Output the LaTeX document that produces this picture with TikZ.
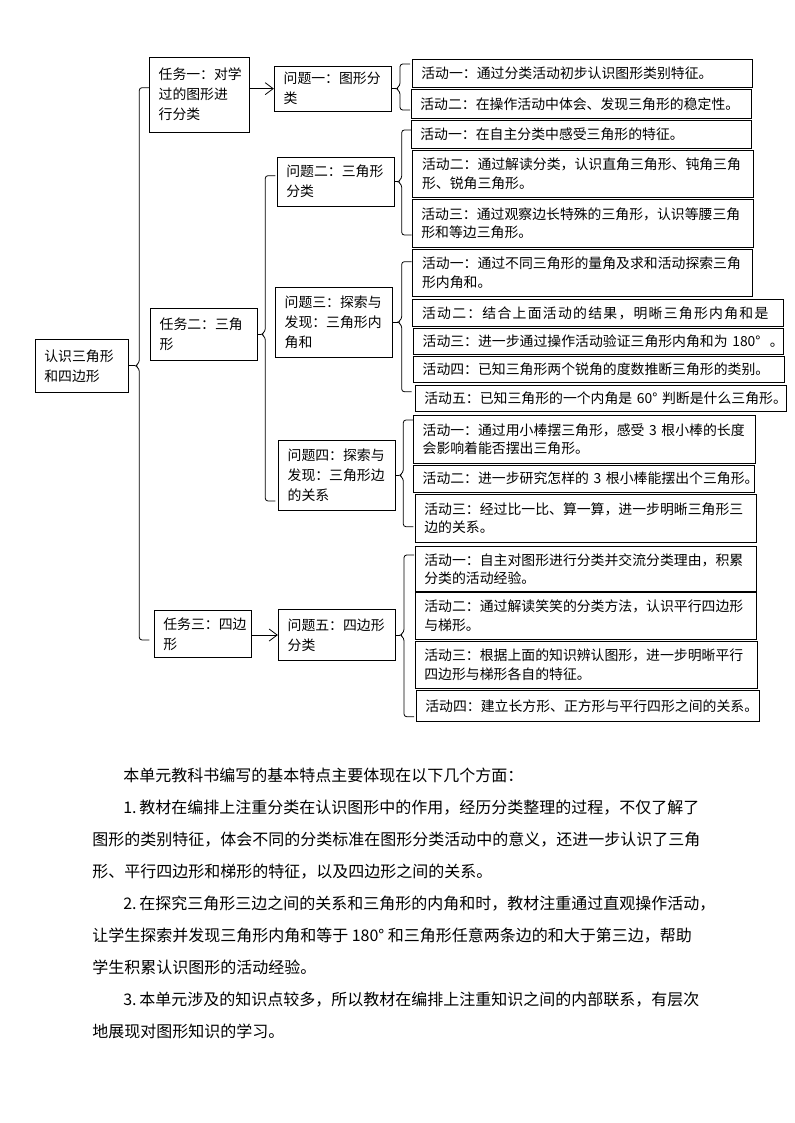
\documentclass[tikz,border=0pt]{standalone}
\usepackage{fontspec}
\setmainfont{Noto Sans CJK SC}
\usetikzlibrary{calc,arrows.meta}
\def\tbox[#1](#2)(#3,#4)(#5,#6)#7{\pgfmathsetmacro\bw{(#5-#3)*0.75-14}\pgfmathsetmacro\bh{(#6-#4)*0.75}\node[#1,text width=\bw pt,minimum height=\bh pt] (#2) at ({(#3+#5)/2},{(#4+#6)/2}) {#7};}
\def\fork(#1)(#2:#3:#4){\draw[link] (#1.east) -- ({#2-4},0 |- #1.east);
	\draw[link,rounded corners=2pt] ({#2+10},#3) -- (#2,#3) -- ($(#2,0 |- #1.east)+(0,-3)$) -- ({#2-4},0 |- #1.east) -- ($(#2,0 |- #1.east)+(0,3)$) -- (#2,#4) -- ({#2+10},#4);}

\begin{document}
\begin{tikzpicture}[x=0.75pt,y=-0.75pt,
	cell/.style={draw,line width=0.7pt,inner xsep=7pt,inner ysep=1pt,align=left,font=\fontsize{10.4}{15}\selectfont},
	act/.style={cell,font=\fontsize{10.4}{13.7}\selectfont},
	link/.style={line width=0.6pt},
	arr/.style={link,-{Straight Barb[length=6pt,width=9pt]}},
	para/.style={anchor=base west,inner sep=0pt,font=\fontsize{12}{24}\selectfont}]
		%%%%% START %%%%%
		\useasboundingbox (0,0) rectangle (794,1123);
		
		\tbox[cell](root)(35,339.3)(128.7,392.3){认识三角形\\和四边形}
		
		\tbox[cell](t1)(149.3,57)(249.3,132.3){任务一：对学\\过的图形进\\行分类}
		\tbox[cell](t2)(150.3,308.3)(257.3,360.3){任务二：三角\\形}
		\tbox[cell](t3)(154,610)(251.7,657.7){任务三：四边\\形}
		
		\tbox[cell](q1)(274.3,66)(391.7,111.3){问题一：图形分\\类}
		\tbox[cell](q2)(277,157.3)(394.3,206){问题二：三角形\\分类}
		\tbox[cell](q3)(275.3,287.3)(392.3,357){问题三：探索与\\发现：三角形内\\角和}
		\tbox[cell](q4)(278.3,440)(395.7,510.7){问题四：探索与\\发现：三角形边\\的关系}
		\tbox[cell](q5)(278.3,609.3)(395.7,660.7){问题五：四边形\\分类}
		
		\tbox[act](a11)(412,59.3)(752.3,87.3){活动一：通过分类活动初步认识图形类别特征。}
		\tbox[act](a12)(411,89.3)(751.7,118.3){活动二：在操作活动中体会、发现三角形的稳定性。}
		
		\tbox[act](a21)(411,120)(751.7,148.3){活动一：在自主分类中感受三角形的特征。}
		\tbox[act](a22)(412.7,150)(753.3,197.7){活动二：通过解读分类，认识直角三角形、钝角三角\\形、锐角三角形。}
		\tbox[act](a23)(412,199.3)(753.3,247.3){活动三：通过观察边长特殊的三角形，认识等腰三角\\形和等边三角形。}
		
		\tbox[act](a31)(412.7,249.3)(752.3,296){活动一：通过不同三角形的量角及求和活动探索三角\\形内角和。}
		\tbox[act](a32)(412.7,299.3)(783.3,326.7){\addfontfeature{LetterSpace=9}活动二：结合上面活动的结果，明晰三角形内角和是}
		\tbox[act](a33)(413.3,328.3)(783.3,354.3){活动三：进一步通过操作活动验证三角形内角和为~180°~~。}
		\tbox[act](a34)(413.3,356.7)(784.3,382.3){活动四：已知三角形两个锐角的度数推断三角形的类别。}
		\tbox[act](a35)(415,385)(786.7,411.7){活动五：已知三角形的一个内角是~60°~判断是什么三角形。}
		
		\tbox[act](a41)(413.3,415.7)(755.7,463.3){活动一：通过用小棒摆三角形，感受~3~根小棒的长度\\会影响着能否摆出三角形。}
		\tbox[act](a42)(413.3,465)(754.3,492.3){活动二：进一步研究怎样的~3~根小棒能摆出个三角形。}
		\tbox[act](a43)(415,494.3)(756.7,542.3){活动三：经过比一比、算一算，进一步明晰三角形三\\边的关系。}
		
		\tbox[act](a51)(415,546)(756,591.7){活动一：自主对图形进行分类并交流分类理由，积累\\分类的活动经验。}
		\tbox[act](a52)(415,592.3)(756.7,639.3){活动二：通过解读笑笑的分类方法，认识平行四边形\\与梯形。}
		\tbox[act](a53)(415,641)(757.7,688.3){活动三：根据上面的知识辨认图形，进一步明晰平行\\四边形与梯形各自的特征。}
		\tbox[act](a54)(416,690)(759.3,721.7){活动四：建立长方形、正方形与平行四形之间的关系。}
		
		% braces
		\fork(root)(139.3:87.7:640)
		\fork(t2)(265.3:175.7:501)
		\fork(q1)(400:64:110)
		\fork(q2)(401.7:130:235)
		\fork(q3)(401.7:261.7:391.7)
		\fork(q4)(403.3:420:526.7)
		\fork(q5)(404:555:716.7)
		
		\draw[arr] (t1.east |- q1.west) -- (q1.west);
		\draw[arr] (t3.east |- q5.west) -- (q5.west);
		
		% text below
		\foreach \x/\t [count=\i from 0] in {123/{本单元教科书编写的基本特点主要体现在以下几个方面：},
			123/{1.\,教材在编排上注重分类在认识图形中的作用，经历分类整理的过程，不仅了解了},
			92/{图形的类别特征，体会不同的分类标准在图形分类活动中的意义，还进一步认识了三角},
			92/{形、平行四边形和梯形的特征，以及四边形之间的关系。},
			123/{2.\,在探究三角形三边之间的关系和三角形的内角和时，教材注重通过直观操作活动，},
			92/{让学生探索并发现三角形内角和等于 180° 和三角形任意两条边的和大于第三边，帮助},
			92/{学生积累认识图形的活动经验。},
			123/{3.\,本单元涉及的知识点较多，所以教材在编排上注重知识之间的内部联系，有层次},
			92/{地展现对图形知识的学习。}}
			\node[para] (p\i) at (\x,{781+32.1*\i}) {\t};
		%%%%% END %%%%%
\end{tikzpicture}
\end{document}
